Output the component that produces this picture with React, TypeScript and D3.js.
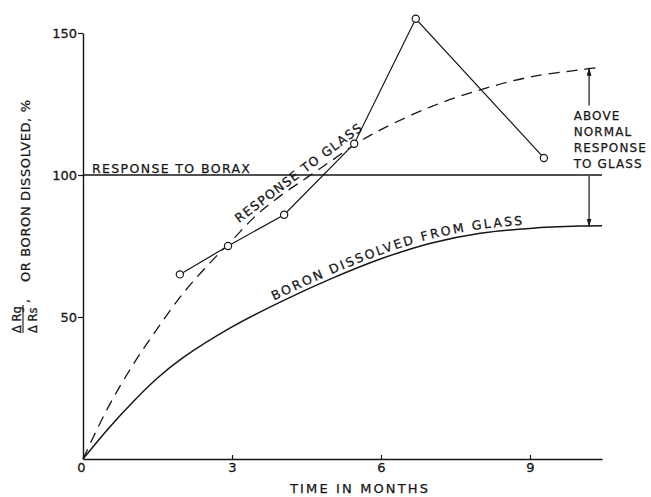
import React, { useEffect, useRef } from "react";
import * as d3 from "d3";

// dashed curve: response to glass
const months = [0, 0.5, 1, 1.5, 2, 2.5, 3, 3.5, 4, 4.5, 5, 5.5, 6, 7, 8, 9, 10, 10.45];
const responseToGlass = [0, 18, 33, 46, 58, 68, 77, 86, 93, 99, 105, 111, 116, 124, 130, 134.5, 137, 138];

// solid curve: boron dissolved from glass
const boronMonths = [0, 0.5, 1, 1.5, 2, 3, 4, 5, 6, 7, 8, 9, 10, 10.45];
const boronDissolved = [0, 10.5, 20, 28.5, 35.5, 46.5, 55.5, 63.5, 70.5, 76, 79.5, 81.2, 82, 82.1];

// open circles, measured response
const measuredMonths = [1.95, 2.92, 4.05, 5.46, 6.7, 9.28];
const measuredResponse = [65, 75, 86, 111, 155, 106];

const boraxResponse = 100;
const xTicks = [0, 3, 6, 9];
const yTicks = [50, 100, 150];
const noteLines = ["ABOVE", "NORMAL", "RESPONSE", "TO GLASS"];

const W = 651;
const H = 497;
const FONT = "'DejaVu Sans', Verdana, sans-serif";
const INK = "#161616";

export default function App() {
  const svgRef = useRef<SVGSVGElement | null>(null);

  useEffect(() => {
    if (!svgRef.current) return;
    const svg = d3.select(svgRef.current);
    svg.selectAll("*").remove();

    const x = d3.scaleLinear().domain([0, 10.45]).range([83, 602]);
    const y = d3.scaleLinear().domain([0, 150]).range([459, 33]);

    const defs = svg.append("defs");
    defs
      .append("marker")
      .attr("id", "head")
      .attr("viewBox", "0 0 10 6")
      .attr("refX", 10)
      .attr("refY", 3)
      .attr("markerWidth", 8)
      .attr("markerHeight", 5)
      .attr("markerUnits", "userSpaceOnUse")
      .attr("orient", "auto")
      .append("path")
      .attr("d", "M0,0L10,3L0,6Z")
      .attr("fill", INK);

    // axes
    const xAxis = svg
      .append("g")
      .attr("transform", `translate(0,${y(0)})`)
      .call(d3.axisBottom(x).tickValues(xTicks).tickSize(-4).tickSizeOuter(0).tickPadding(4).tickFormat(d3.format("d")));
    const yAxis = svg
      .append("g")
      .attr("transform", `translate(${x(0)},0)`)
      .call(d3.axisLeft(y).tickValues(yTicks).tickSize(5).tickSizeOuter(0).tickPadding(1).tickFormat(d3.format("d")));

    [xAxis, yAxis].forEach((a) => {
      a.select(".domain").attr("stroke", INK).attr("stroke-width", 1.4);
      a.selectAll(".tick line").attr("stroke", INK).attr("stroke-width", 1.2);
      a.selectAll("text")
        .attr("font-family", FONT)
        .attr("font-size", 13)
        .attr("fill", INK)
        .attr("stroke", INK)
        .attr("stroke-width", 0.3);
    });
    xAxis.selectAll(".tick").filter((d) => d === 0).select("line").remove();
    xAxis.selectAll(".tick").filter((d) => d === 0).select("text").attr("dx", -2);

    // borax line
    svg
      .append("line")
      .attr("x1", x(0))
      .attr("x2", x(10.45))
      .attr("y1", y(boraxResponse))
      .attr("y2", y(boraxResponse))
      .attr("stroke", INK)
      .attr("stroke-width", 1.3);

    const curve = d3.line<number>().curve(d3.curveCatmullRom.alpha(0.5));

    // dashed response to glass
    svg
      .append("path")
      .attr("d", curve.x((_, i) => x(months[i])).y((d) => y(d))(responseToGlass))
      .attr("fill", "none")
      .attr("stroke", INK)
      .attr("stroke-width", 1.3)
      .attr("stroke-dasharray", "11 7");

    // boron dissolved
    const boronPath = svg
      .append("path")
      .attr("id", "boron")
      .attr("d", curve.x((_, i) => x(boronMonths[i])).y((d) => y(d))(boronDissolved))
      .attr("fill", "none")
      .attr("stroke", INK)
      .attr("stroke-width", 1.5);

    // measured response
    const pts = measuredMonths.map((m, i) => [x(m), y(measuredResponse[i])] as [number, number]);
    svg
      .append("path")
      .attr("d", d3.line()(pts))
      .attr("fill", "none")
      .attr("stroke", INK)
      .attr("stroke-width", 1.2);
    svg
      .selectAll("circle.pt")
      .data(pts)
      .join("circle")
      .attr("class", "pt")
      .attr("cx", (d) => d[0])
      .attr("cy", (d) => d[1])
      .attr("r", 3.6)
      .attr("fill", "#fff")
      .attr("stroke", INK)
      .attr("stroke-width", 1.2);

    const label = (sel: d3.Selection<any, unknown, null, undefined>, size = 12.5) =>
      sel
        .attr("font-family", FONT)
        .attr("font-size", size)
        .attr("fill", INK)
        .attr("stroke", INK)
        .attr("stroke-width", 0.25);

    // RESPONSE TO BORAX
    label(
      svg
        .append("text")
        .attr("x", x(0.18))
        .attr("y", y(boraxResponse) - 2)
        .attr("textLength", 158)
        .attr("lengthAdjust", "spacing")
        .text("RESPONSE TO BORAX")
    );

    // RESPONSE TO GLASS (along dashed curve)
    label(
      svg
        .append("text")
        .attr("transform", `translate(${x(3.14)},${y(83)}) rotate(-37)`)
        .attr("textLength", 155)
        .attr("lengthAdjust", "spacing")
        .text("RESPONSE TO GLASS")
    );

    // BORON DISSOLVED FROM GLASS along the solid curve
    const node = boronPath.node() as SVGPathElement;
    const total = node.getTotalLength();
    const at = (xv: number) => {
      let l = 0;
      while (l < total && node.getPointAtLength(l).x < x(xv)) l += 0.5;
      return l;
    };
    const l0 = at(3.88);
    const l1 = at(8.85);
    label(svg.append("text").attr("dy", -4))
      .append("textPath")
      .attr("href", "#boron")
      .attr("startOffset", l0)
      .attr("textLength", l1 - l0)
      .attr("lengthAdjust", "spacing")
      .text("BORON DISSOLVED FROM GLASS");

    // arrows for the above-normal note
    const ax = x(10.19);
    svg
      .append("line")
      .attr("x1", ax)
      .attr("x2", ax)
      .attr("y1", y(124.5))
      .attr("y2", y(137.8))
      .attr("stroke", INK)
      .attr("stroke-width", 1.2)
      .attr("marker-end", "url(#head)");
    svg
      .append("line")
      .attr("x1", ax)
      .attr("x2", ax)
      .attr("y1", y(boraxResponse) + 1)
      .attr("y2", y(81.8))
      .attr("stroke", INK)
      .attr("stroke-width", 1.2)
      .attr("marker-end", "url(#head)");

    const note = label(svg.append("text"), 12).attr("letter-spacing", 1.1);
    note
      .selectAll("tspan")
      .data(noteLines)
      .join("tspan")
      .attr("x", x(9.88))
      .attr("y", (_, i) => y(119.3) + i * 15.8)
      .text((d) => d);

    // x title
    label(
      svg
        .append("text")
        .attr("x", 290)
        .attr("y", 493)
        .attr("textLength", 138)
        .attr("lengthAdjust", "spacing")
        .text("TIME IN MONTHS"),
      13
    );

    // y title, rotated, with the fraction
    const yt = svg.append("g").attr("transform", "translate(23,333) rotate(-90)");
    yt.append("line").attr("x1", 0).attr("x2", 28).attr("y1", 0).attr("y2", 0).attr("stroke", INK).attr("stroke-width", 1.1);
    label(yt.append("text").attr("x", 0).attr("y", -2.5).text("Δ Rg"), 11.5);
    label(yt.append("text").attr("x", 0).attr("y", 13.5).text("Δ Rs"), 11.5);
    label(yt.append("text").attr("x", 30).attr("y", 6).text(","), 13);
    label(
      yt
        .append("text")
        .attr("x", 51)
        .attr("y", 6.5)
        .attr("textLength", 182)
        .attr("lengthAdjust", "spacing")
        .text("OR BORON DISSOLVED, %"),
      13
    );
  }, []);

  return (
    <svg
      ref={svgRef}
      width={W}
      height={H}
      style={{ position: "absolute", left: 0, top: 0, background: "#fff" }}
    />
  );
}
